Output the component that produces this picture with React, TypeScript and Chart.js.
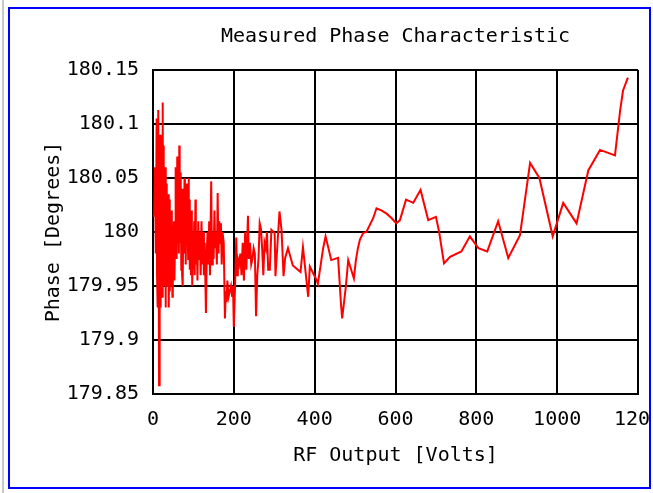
import React, { useEffect, useRef } from "react";
import { Chart, registerables } from "chart.js";

Chart.register(...registerables);

const chartTitle = "Measured Phase Characteristic";
const xAxisTitle = "RF Output [Volts]";
const yAxisTitle = "Phase [Degrees]";

const xTickValues = [0, 200, 400, 600, 800, 1000, 1200];
const xTickLabels = ["0", "200", "400", "600", "800", "1000", "1200"];
const yTickValues = [179.85, 179.9, 179.95, 180, 180.05, 180.1, 180.15];
const yTickLabels = ["179.85", "179.9", "179.95", "180", "180.05", "180.1", "180.15"];

const voltages = [
  0, 3, 5, 7, 9, 10, 11, 12, 13, 15, 16, 17, 18, 19, 20, 21, 22, 23, 24, 25,
  26, 27, 28, 29, 30, 31, 32, 33, 34, 35, 36, 37, 38, 39, 40, 41, 42, 43, 44, 45,
  46, 47, 48, 49, 50, 52, 53, 55, 56, 57, 58, 59, 60, 61, 63, 64, 65, 66, 67, 68,
  69, 70, 71, 72, 73, 74, 75, 76, 78, 79, 80, 81, 83, 84, 85, 87, 88, 89, 90, 91,
  93, 94, 96, 97, 99, 100, 102, 103, 105, 106, 108, 110, 112, 114, 116, 118, 120, 122, 124, 126,
  128, 131, 133, 135, 137, 139, 141, 144, 146, 148, 150, 152, 154, 156, 158, 160, 162, 164, 166, 168,
  170, 172, 175, 178, 180, 182, 184, 187, 190, 193, 196, 198, 200, 203, 206, 208, 210, 213, 216, 219,
  222, 225, 228, 231, 235, 237, 240, 243, 246, 249, 252, 255, 258, 261, 264, 267, 270, 273, 276, 279,
  282, 285, 289, 293, 301, 303, 313, 318, 323, 327, 334, 346, 365, 371, 384, 388, 404, 408, 421, 427,
  441, 458, 465, 468, 477, 483, 497, 502, 507, 512, 520, 528, 545, 553, 565, 578, 590, 602, 611, 626,
  644, 662, 681, 700, 708, 720, 735, 763, 784, 805, 827, 854, 879, 908, 933, 956, 989, 1015, 1048, 1077,
  1106, 1143, 1156, 1163, 1175,
];

const phases = [
  180.015, 180.015, 180.06, 179.98, 180.105, 179.96, 180.08, 179.93, 180.113, 179.858,
  180.09, 179.95, 180.07, 179.93, 180.09, 179.97, 180.06, 179.94, 180.12, 179.99,
  180.08, 179.95, 180.04, 179.965, 180.06, 179.93, 180.03, 179.96, 180.045, 179.95,
  180.02, 179.975, 180.035, 179.93, 179.99, 180.03, 179.945, 180.01, 179.95, 180.0,
  179.97, 180.02, 179.94, 180.0, 179.97, 180.01, 179.955, 180.0, 180.06, 179.99,
  180.055, 179.975, 180.07, 179.99, 180.05, 179.98, 180.08, 180.0, 180.04, 179.99,
  180.055, 179.965, 180.035, 179.96, 180.04, 179.95, 180.02, 179.99, 180.05, 179.98,
  180.03, 179.97, 180.045, 179.99, 180.02, 179.975, 180.05, 179.98, 180.03, 179.965,
  180.01, 179.96, 180.02, 179.95, 180.0, 179.965, 180.01, 179.96, 180.03, 179.97,
  180.0, 179.955, 180.01, 179.975, 180.0, 179.96, 180.01, 179.97, 180.0, 179.96,
  179.99, 179.925, 179.98, 180.0, 179.97, 180.01, 179.96, 180.047, 179.97, 180.0,
  179.975, 180.02, 179.985, 180.0, 179.97, 180.036, 179.98, 180.01, 179.99, 180.008,
  179.97, 180.0, 179.99, 179.92, 179.945, 179.935, 179.955, 179.94, 179.945, 179.95,
  179.94, 179.95, 179.912, 179.95, 179.995, 179.96, 179.975, 179.97, 179.98, 179.96,
  179.99, 179.955, 180.0, 179.965, 180.015, 179.975, 179.99, 179.97, 179.975, 179.985,
  179.98, 179.922, 179.96, 179.975, 180.008, 180.003, 179.985, 179.96, 179.99, 179.985,
  180.0, 179.965, 179.965, 180.002, 179.999, 179.959, 180.019, 180.002, 179.959, 179.976,
  179.985, 179.969, 179.963, 179.986, 179.94, 179.968, 179.956, 179.952, 179.985, 179.996,
  179.974, 179.976, 179.934, 179.92, 179.949, 179.974, 179.957, 179.974, 179.985, 179.993,
  179.999, 180.0, 180.013, 180.022, 180.02, 180.017, 180.013, 180.008, 180.011, 180.03,
  180.027, 180.039, 180.011, 180.014, 180.0, 179.971, 179.977, 179.982, 179.996, 179.985,
  179.982, 180.01, 179.976, 179.997, 180.064, 180.05, 179.996, 180.027, 180.008, 180.057,
  180.076, 180.071, 180.113, 180.131, 180.143,
];

const FONT = "'DejaVu Sans Mono', 'Liberation Mono', monospace";

export default function App() {
  const ref = useRef<HTMLCanvasElement>(null);

  useEffect(() => {
    const canvas = ref.current;
    if (!canvas) return;
    const points = voltages.map((v, i) => ({ x: v, y: phases[i] }));
    const chart = new Chart(canvas, {
      type: "line",
      data: {
        datasets: [
          {
            data: points,
            borderColor: "#ff0000",
            borderWidth: 2,
            pointRadius: 0,
            tension: 0,
            fill: false,
          },
        ],
      },
      options: {
        responsive: false,
        animation: false,
        events: [],
        layout: { padding: { left: 0, top: 0, right: 62, bottom: 0 } },
        plugins: {
          legend: { display: false },
          tooltip: { enabled: false },
          title: {
            display: true,
            fullSize: false,
            text: chartTitle,
            color: "#000",
            font: { family: FONT, size: 20, weight: "normal", lineHeight: 1.2 },
            padding: { top: 25, bottom: 21 },
          },
        },
        scales: {
          x: {
            type: "linear",
            min: 0,
            max: 1200,
            afterBuildTicks: (scale: any) => {
              scale.ticks = xTickValues.map((v) => ({ value: v }));
            },
            afterFit: (scale: any) => {
              scale.height = 99;
            },
            ticks: {
              color: "#000",
              font: { family: FONT, size: 20, lineHeight: 1.2 },
              padding: 14,
              maxRotation: 0,
              autoSkip: false,
              callback: (_v: any, i: number) => xTickLabels[i],
            },
            grid: { color: "#000", lineWidth: 2, drawTicks: false },
            border: { display: true, color: "#000", width: 2 },
            title: {
              display: true,
              text: xAxisTitle,
              color: "#000",
              font: { family: FONT, size: 20, lineHeight: 1.2 },
              padding: { top: 0, bottom: 25 },
            },
          },
          y: {
            type: "linear",
            min: 179.85,
            max: 180.15,
            afterBuildTicks: (scale: any) => {
              scale.ticks = yTickValues.map((v) => ({ value: v }));
            },
            afterFit: (scale: any) => {
              scale.width = 153;
            },
            ticks: {
              color: "#000",
              font: { family: FONT, size: 20, lineHeight: 1.2 },
              padding: 14,
              autoSkip: false,
              callback: (_v: any, i: number) => yTickLabels[i],
            },
            grid: { color: "#000", lineWidth: 2, drawTicks: false },
            border: { display: true, color: "#000", width: 2 },
            title: {
              display: true,
              text: yAxisTitle,
              color: "#000",
              font: { family: FONT, size: 20, lineHeight: 1.2 },
              padding: { top: 42, bottom: 0 },
            },
          },
        },
      },
    } as any);
    return () => chart.destroy();
  }, []);

  return (
    <div
      style={{
        position: "fixed",
        left: 0,
        top: 0,
        width: 653,
        height: 493,
        background: "#fff",
        overflow: "hidden",
      }}
    >
      <div
        style={{
          position: "absolute",
          left: 2,
          top: 0,
          width: 2,
          height: 493,
          background: "#c8c8c8",
        }}
      />
      <div
        style={{
          position: "absolute",
          left: 8,
          top: 7,
          width: 643,
          height: 482,
          boxSizing: "border-box",
          border: "2px solid #0000ff",
          overflow: "hidden",
        }}
      >
        <canvas
          ref={ref}
          width={700}
          height={493}
          style={{ position: "absolute", left: -10, top: -9, width: 700, height: 493, display: "block" }}
        />
      </div>
    </div>
  );
}
